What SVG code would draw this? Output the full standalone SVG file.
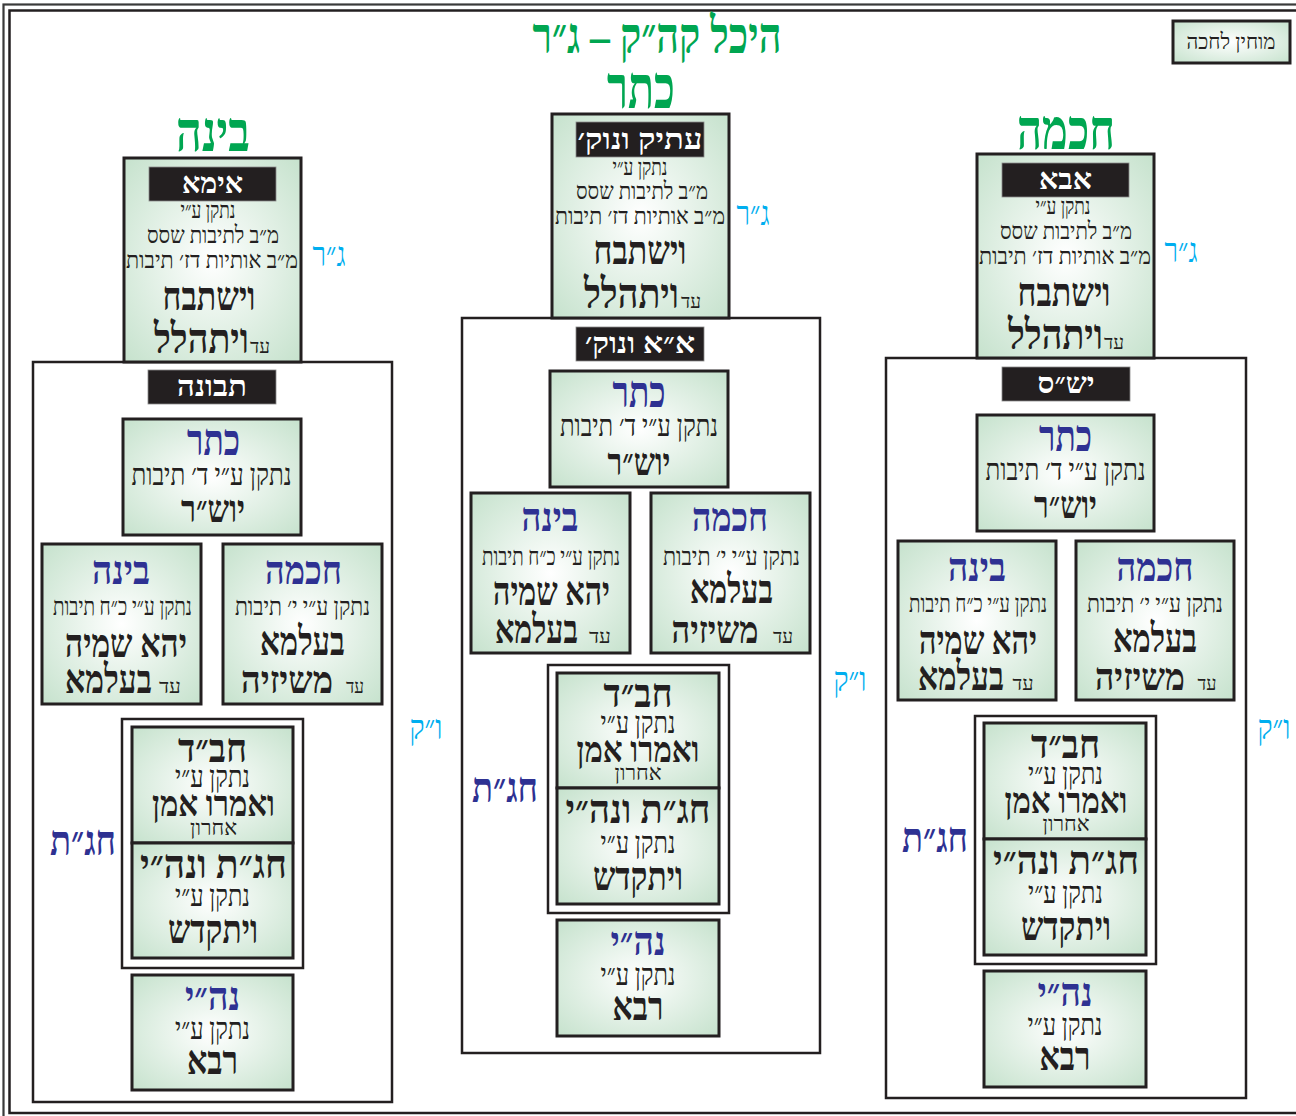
<svg xmlns="http://www.w3.org/2000/svg" width="1296" height="1116" viewBox="0 0 1296 1116">
<defs>
<radialGradient id="g" cx="50%" cy="50%" r="70%">
<stop offset="0" stop-color="#ffffff"/>
<stop offset="1" stop-color="#c6e2cd"/>
</radialGradient>
<style>
.t{font-family:"Liberation Serif","DejaVu Sans",serif;direction:rtl;text-anchor:middle;fill:#231f20}
.box{fill:url(#g);stroke:#231f20;stroke-width:3}
.frame{fill:#fff;stroke:#231f20;stroke-width:2.5}
.lbl{fill:#231f20;stroke:#8a8a8a;stroke-width:0.8}
.w{fill:#fff;font-weight:bold;font-size:29px}
.b{font-weight:bold}
.blue{fill:#2e3192;font-weight:bold}
.green{fill:#00a651;font-weight:bold}
.cyan{fill:#00aeef}
.s20{font-size:24px}.s22{font-size:26px}.s26{font-size:30px}.s17{font-size:20px}
</style>
</defs>
<rect width="1296" height="1116" fill="#fff"/>
<g id="frame">
<rect x="3.5" y="4.5" width="1310" height="1125" fill="none" stroke="#3a3a3a" stroke-width="2.2"/>
<rect x="9.5" y="10.5" width="1300" height="1102.5" fill="none" stroke="#231f20" stroke-width="2.5"/>
</g>
<g id="titles">
<text class="t green" x="657" y="53" font-size="50" textLength="249" lengthAdjust="spacingAndGlyphs">היכל קה״ק – ג״ר</text>
<text class="t green" x="641" y="108" font-size="60" textLength="68" lengthAdjust="spacingAndGlyphs">כתר</text>
<text class="t green" x="213" y="151" font-size="56" textLength="74" lengthAdjust="spacingAndGlyphs">בינה</text>
<text class="t green" x="1066" y="149" font-size="56" textLength="98" lengthAdjust="spacingAndGlyphs">חכמה</text>
</g>
<g id="legend">
<rect x="1173" y="21" width="117" height="42" class="box"/>
<text class="t" x="1231" y="49" font-size="22" textLength="89" lengthAdjust="spacingAndGlyphs">מוחין לחכה</text>
</g>

<!-- LEFT COLUMN -->
<g id="tevuna" transform="translate(33,362)">
<rect x="0" y="0" width="359" height="740" class="frame"/>
<rect x="115" y="8" width="128" height="34" class="lbl"/>
<text class="t w" x="179" y="34" textLength="70" lengthAdjust="spacingAndGlyphs">תבונה</text>
</g>
<g id="imma" transform="translate(124,158)">
<rect x="0" y="0" width="177" height="204" class="box"/>
<rect x="25" y="9" width="127" height="34" class="lbl"/>
<text class="t w" x="88.5" y="35" textLength="61" lengthAdjust="spacingAndGlyphs">אימא</text>
<text class="t s20" x="84" y="60" textLength="55" lengthAdjust="spacingAndGlyphs">נתקן ע״י</text>
<text class="t s20" x="89" y="85" textLength="132" lengthAdjust="spacingAndGlyphs">מ״ב לתיבות שסס</text>
<text class="t s20" x="88" y="110" textLength="172" lengthAdjust="spacingAndGlyphs">מ״ב אותיות דז׳ תיבות</text>
<text class="t b" x="85" y="152" font-size="40" textLength="93" lengthAdjust="spacingAndGlyphs">וישתבח</text>
<text class="t b" x="77.5" y="195" font-size="42" textLength="95" lengthAdjust="spacingAndGlyphs">ויתהלל</text>
<text class="t s17" x="136" y="195" textLength="20" lengthAdjust="spacingAndGlyphs">עד</text>
</g>
<g id="tevuna-keter" transform="translate(123,419)">
<rect x="0" y="0" width="178" height="116" class="box"/>
<text class="t blue" x="90.5" y="36" font-size="44" textLength="53" lengthAdjust="spacingAndGlyphs">כתר</text>
<text class="t s26" x="88.5" y="66" textLength="160" lengthAdjust="spacingAndGlyphs">נתקן ע״י ד׳ תיבות</text>
<text class="t b" x="90" y="103" font-size="38" textLength="64" lengthAdjust="spacingAndGlyphs">יוש״ר</text>
</g>
<g id="tevuna-bina" transform="translate(42,544)">
<rect x="0" y="0" width="159" height="160" class="box"/>
<text class="t blue" x="79" y="40" font-size="40" textLength="58" lengthAdjust="spacingAndGlyphs">בינה</text>
<text class="t s22" x="80.5" y="71" textLength="139" lengthAdjust="spacingAndGlyphs">נתקן ע״י כ״ח תיבות</text>
<text class="t b" x="84" y="113" font-size="40" textLength="122" lengthAdjust="spacingAndGlyphs">יהא שמיה</text>
<text class="t b" x="66.5" y="149" font-size="40" textLength="87" lengthAdjust="spacingAndGlyphs">בעלמא</text>
<text class="t s17" x="128" y="149" textLength="22" lengthAdjust="spacingAndGlyphs">עד</text>
</g>
<g id="tevuna-chokhma" transform="translate(223,544)">
<rect x="0" y="0" width="159" height="160" class="box"/>
<text class="t blue" x="80.5" y="40" font-size="40" textLength="77" lengthAdjust="spacingAndGlyphs">חכמה</text>
<text class="t s22" x="79.5" y="71" textLength="135" lengthAdjust="spacingAndGlyphs">נתקן ע״י י׳ תיבות</text>
<text class="t b" x="79.5" y="111" font-size="40" textLength="85" lengthAdjust="spacingAndGlyphs">בעלמא</text>
<text class="t b" x="64" y="149" font-size="38" textLength="92" lengthAdjust="spacingAndGlyphs">משיזיה</text>
<text class="t s17" x="132" y="149" textLength="18" lengthAdjust="spacingAndGlyphs">עד</text>
</g>
<g id="tevuna-chagat" transform="translate(122,719)">
<rect x="0" y="0" width="181" height="249" class="frame"/>
<rect x="10" y="8" width="161" height="116" class="box"/>
<rect x="10" y="124" width="161" height="115" class="box"/>
<text class="t b" x="90.5" y="43" font-size="40" textLength="69" lengthAdjust="spacingAndGlyphs">חב״ד</text>
<text class="t s26" x="90.5" y="68" textLength="75" lengthAdjust="spacingAndGlyphs">נתקן ע״י</text>
<text class="t b" x="91.5" y="97" font-size="36" textLength="123" lengthAdjust="spacingAndGlyphs">ואמרו אמן</text>
<text class="t" x="91.5" y="116" font-size="22" textLength="47" lengthAdjust="spacingAndGlyphs">אחרון</text>
<text class="t b" x="91.5" y="159" font-size="40" textLength="147" lengthAdjust="spacingAndGlyphs">חג״ת ונה״י</text>
<text class="t s26" x="90.5" y="187" textLength="75" lengthAdjust="spacingAndGlyphs">נתקן ע״י</text>
<text class="t b" x="91" y="224" font-size="40" textLength="90" lengthAdjust="spacingAndGlyphs">ויתקדש</text>
</g>
<g id="tevuna-nehi" transform="translate(132,975)">
<rect x="0" y="0" width="161" height="115" class="box"/>
<text class="t blue" x="80.5" y="35" font-size="40" textLength="55" lengthAdjust="spacingAndGlyphs">נה״י</text>
<text class="t s26" x="80.5" y="64" textLength="75" lengthAdjust="spacingAndGlyphs">נתקן ע״י</text>
<text class="t b" x="80.5" y="99" font-size="40" textLength="51" lengthAdjust="spacingAndGlyphs">רבא</text>
</g>
<g id="left-labels">
<text class="t cyan" x="329" y="266" font-size="34" textLength="33" lengthAdjust="spacingAndGlyphs">ג״ר</text>
<text class="t cyan" x="426" y="739" font-size="34" textLength="33" lengthAdjust="spacingAndGlyphs">ו״ק</text>
<text class="t blue" x="83" y="855" font-size="42" textLength="66" lengthAdjust="spacingAndGlyphs">חג״ת</text>
</g>

<!-- CENTER COLUMN -->
<g id="aa" transform="translate(462,318)">
<rect x="0" y="0" width="358" height="735" class="frame"/>
<rect x="114" y="9" width="128" height="34" class="lbl"/>
<text class="t w" x="178" y="35" textLength="110" lengthAdjust="spacingAndGlyphs">א״א ונוק׳</text>
</g>
<g id="atik" transform="translate(552,114)">
<rect x="0" y="0" width="177" height="204" class="box"/>
<rect x="24" y="8" width="128" height="35" class="lbl"/>
<text class="t w" x="88" y="35" textLength="125" lengthAdjust="spacingAndGlyphs">עתיק ונוק׳</text>
<text class="t s20" x="88" y="61" textLength="55" lengthAdjust="spacingAndGlyphs">נתקן ע״י</text>
<text class="t s20" x="90" y="85" textLength="132" lengthAdjust="spacingAndGlyphs">מ״ב לתיבות שסס</text>
<text class="t s20" x="88" y="110" textLength="170" lengthAdjust="spacingAndGlyphs">מ״ב אותיות דז׳ תיבות</text>
<text class="t b" x="88" y="150" font-size="40" textLength="93" lengthAdjust="spacingAndGlyphs">וישתבח</text>
<text class="t b" x="79.5" y="194" font-size="42" textLength="95" lengthAdjust="spacingAndGlyphs">ויתהלל</text>
<text class="t s17" x="139" y="194" textLength="20" lengthAdjust="spacingAndGlyphs">עד</text>
</g>
<g id="aa-keter" transform="translate(550,371)">
<rect x="0" y="0" width="178" height="116" class="box"/>
<text class="t blue" x="89" y="36" font-size="44" textLength="53" lengthAdjust="spacingAndGlyphs">כתר</text>
<text class="t s26" x="89" y="65" textLength="158" lengthAdjust="spacingAndGlyphs">נתקן ע״י ד׳ תיבות</text>
<text class="t b" x="89" y="104" font-size="38" textLength="63" lengthAdjust="spacingAndGlyphs">יוש״ר</text>
</g>
<g id="aa-bina" transform="translate(471,493)">
<rect x="0" y="0" width="159" height="160" class="box"/>
<text class="t blue" x="79" y="38" font-size="40" textLength="57" lengthAdjust="spacingAndGlyphs">בינה</text>
<text class="t s22" x="80" y="72" textLength="138" lengthAdjust="spacingAndGlyphs">נתקן ע״י כ״ח תיבות</text>
<text class="t b" x="80.5" y="112" font-size="40" textLength="117" lengthAdjust="spacingAndGlyphs">יהא שמיה</text>
<text class="t b" x="65.5" y="150" font-size="40" textLength="83" lengthAdjust="spacingAndGlyphs">בעלמא</text>
<text class="t s17" x="129" y="150" textLength="22" lengthAdjust="spacingAndGlyphs">עד</text>
</g>
<g id="aa-chokhma" transform="translate(651,493)">
<rect x="0" y="0" width="159" height="160" class="box"/>
<text class="t blue" x="79" y="38" font-size="40" textLength="76" lengthAdjust="spacingAndGlyphs">חכמה</text>
<text class="t s22" x="80.5" y="72" textLength="137" lengthAdjust="spacingAndGlyphs">נתקן ע״י י׳ תיבות</text>
<text class="t b" x="80.5" y="110" font-size="40" textLength="83" lengthAdjust="spacingAndGlyphs">בעלמא</text>
<text class="t b" x="64" y="150" font-size="38" textLength="87" lengthAdjust="spacingAndGlyphs">משיזיה</text>
<text class="t s17" x="132" y="150" textLength="20" lengthAdjust="spacingAndGlyphs">עד</text>
</g>
<g id="aa-chagat" transform="translate(548,665)">
<rect x="0" y="0" width="181" height="248" class="frame"/>
<rect x="9" y="8" width="162" height="115" class="box"/>
<rect x="9" y="123" width="162" height="116" class="box"/>
<text class="t b" x="90" y="42" font-size="40" textLength="69" lengthAdjust="spacingAndGlyphs">חב״ד</text>
<text class="t s26" x="90" y="68" textLength="75" lengthAdjust="spacingAndGlyphs">נתקן ע״י</text>
<text class="t b" x="90" y="97" font-size="36" textLength="123" lengthAdjust="spacingAndGlyphs">ואמרו אמן</text>
<text class="t" x="90" y="115" font-size="22" textLength="47" lengthAdjust="spacingAndGlyphs">אחרון</text>
<text class="t b" x="90" y="158" font-size="40" textLength="145" lengthAdjust="spacingAndGlyphs">חג״ת ונה״י</text>
<text class="t s26" x="90" y="188" textLength="75" lengthAdjust="spacingAndGlyphs">נתקן ע״י</text>
<text class="t b" x="90" y="225" font-size="40" textLength="90" lengthAdjust="spacingAndGlyphs">ויתקדש</text>
</g>
<g id="aa-nehi" transform="translate(557,920)">
<rect x="0" y="0" width="162" height="116" class="box"/>
<text class="t blue" x="81" y="35" font-size="40" textLength="55" lengthAdjust="spacingAndGlyphs">נה״י</text>
<text class="t s26" x="81" y="65" textLength="75" lengthAdjust="spacingAndGlyphs">נתקן ע״י</text>
<text class="t b" x="81" y="100" font-size="40" textLength="51" lengthAdjust="spacingAndGlyphs">רבא</text>
</g>
<g id="center-labels">
<text class="t cyan" x="753" y="225" font-size="34" textLength="33" lengthAdjust="spacingAndGlyphs">ג״ר</text>
<text class="t cyan" x="850" y="691" font-size="34" textLength="33" lengthAdjust="spacingAndGlyphs">ו״ק</text>
<text class="t blue" x="505" y="802" font-size="42" textLength="66" lengthAdjust="spacingAndGlyphs">חג״ת</text>
</g>

<!-- RIGHT COLUMN -->
<g transform="translate(853,-4)">
<g id="yisus" transform="translate(33,362)">
<rect x="0" y="0" width="360" height="740" class="frame"/>
<rect x="116" y="9" width="128" height="34" class="lbl"/>
<text class="t w" x="180" y="35" textLength="57" lengthAdjust="spacingAndGlyphs">יש״ס</text>
</g>
<g id="abba" transform="translate(124,158)">
<rect x="0" y="0" width="177" height="204" class="box"/>
<rect x="25" y="9" width="127" height="34" class="lbl"/>
<text class="t w" x="88.5" y="35" textLength="53" lengthAdjust="spacingAndGlyphs">אבא</text>
<text class="t s20" x="86" y="60" textLength="55" lengthAdjust="spacingAndGlyphs">נתקן ע״י</text>
<text class="t s20" x="89" y="85" textLength="132" lengthAdjust="spacingAndGlyphs">מ״ב לתיבות שסס</text>
<text class="t s20" x="88" y="110" textLength="172" lengthAdjust="spacingAndGlyphs">מ״ב אותיות דז׳ תיבות</text>
<text class="t b" x="87" y="152" font-size="40" textLength="93" lengthAdjust="spacingAndGlyphs">וישתבח</text>
<text class="t b" x="78.5" y="195" font-size="42" textLength="95" lengthAdjust="spacingAndGlyphs">ויתהלל</text>
<text class="t s17" x="137" y="195" textLength="20" lengthAdjust="spacingAndGlyphs">עד</text>
</g>
<g id="yisus-keter" transform="translate(124,419)">
<rect x="0" y="0" width="177" height="116" class="box"/>
<text class="t blue" x="88.5" y="36" font-size="44" textLength="53" lengthAdjust="spacingAndGlyphs">כתר</text>
<text class="t s26" x="88.5" y="65" textLength="160" lengthAdjust="spacingAndGlyphs">נתקן ע״י ד׳ תיבות</text>
<text class="t b" x="88.5" y="103" font-size="38" textLength="63" lengthAdjust="spacingAndGlyphs">יוש״ר</text>
</g>
<g id="yisus-bina" transform="translate(45,545)">
<rect x="0" y="0" width="158" height="159" class="box"/>
<text class="t blue" x="79" y="40" font-size="40" textLength="58" lengthAdjust="spacingAndGlyphs">בינה</text>
<text class="t s22" x="80" y="71" textLength="138" lengthAdjust="spacingAndGlyphs">נתקן ע״י כ״ח תיבות</text>
<text class="t b" x="80" y="113" font-size="40" textLength="118" lengthAdjust="spacingAndGlyphs">יהא שמיה</text>
<text class="t b" x="63" y="149" font-size="40" textLength="86" lengthAdjust="spacingAndGlyphs">בעלמא</text>
<text class="t s17" x="125" y="149" textLength="21" lengthAdjust="spacingAndGlyphs">עד</text>
</g>
<g id="yisus-chokhma" transform="translate(223,545)">
<rect x="0" y="0" width="158" height="159" class="box"/>
<text class="t blue" x="79" y="40" font-size="40" textLength="77" lengthAdjust="spacingAndGlyphs">חכמה</text>
<text class="t s22" x="79" y="71" textLength="136" lengthAdjust="spacingAndGlyphs">נתקן ע״י י׳ תיבות</text>
<text class="t b" x="79" y="111" font-size="40" textLength="84" lengthAdjust="spacingAndGlyphs">בעלמא</text>
<text class="t b" x="64" y="149" font-size="38" textLength="90" lengthAdjust="spacingAndGlyphs">משיזיה</text>
<text class="t s17" x="131" y="149" textLength="19" lengthAdjust="spacingAndGlyphs">עד</text>
</g>
<g id="yisus-chagat" transform="translate(122,720)">
<rect x="0" y="0" width="181" height="248" class="frame"/>
<rect x="9" y="7" width="162" height="116" class="box"/>
<rect x="9" y="123" width="162" height="116" class="box"/>
<text class="t b" x="90.5" y="42" font-size="40" textLength="69" lengthAdjust="spacingAndGlyphs">חב״ד</text>
<text class="t s26" x="90.5" y="68" textLength="75" lengthAdjust="spacingAndGlyphs">נתקן ע״י</text>
<text class="t b" x="91" y="97" font-size="36" textLength="123" lengthAdjust="spacingAndGlyphs">ואמרו אמן</text>
<text class="t" x="91" y="115" font-size="22" textLength="47" lengthAdjust="spacingAndGlyphs">אחרון</text>
<text class="t b" x="91" y="158" font-size="40" textLength="146" lengthAdjust="spacingAndGlyphs">חג״ת ונה״י</text>
<text class="t s26" x="90.5" y="187" textLength="75" lengthAdjust="spacingAndGlyphs">נתקן ע״י</text>
<text class="t b" x="91" y="224" font-size="40" textLength="90" lengthAdjust="spacingAndGlyphs">ויתקדש</text>
</g>
<g id="yisus-nehi" transform="translate(131,975)">
<rect x="0" y="0" width="162" height="116" class="box"/>
<text class="t blue" x="81" y="35" font-size="40" textLength="55" lengthAdjust="spacingAndGlyphs">נה״י</text>
<text class="t s26" x="81" y="64" textLength="75" lengthAdjust="spacingAndGlyphs">נתקן ע״י</text>
<text class="t b" x="81" y="99" font-size="40" textLength="51" lengthAdjust="spacingAndGlyphs">רבא</text>
</g>
<g id="right-labels">
<text class="t cyan" x="328" y="266" font-size="34" textLength="33" lengthAdjust="spacingAndGlyphs">ג״ר</text>
<text class="t cyan" x="421" y="743" font-size="34" textLength="33" lengthAdjust="spacingAndGlyphs">ו״ק</text>
<text class="t blue" x="82" y="856" font-size="42" textLength="66" lengthAdjust="spacingAndGlyphs">חג״ת</text>
</g>
</g>
</svg>
